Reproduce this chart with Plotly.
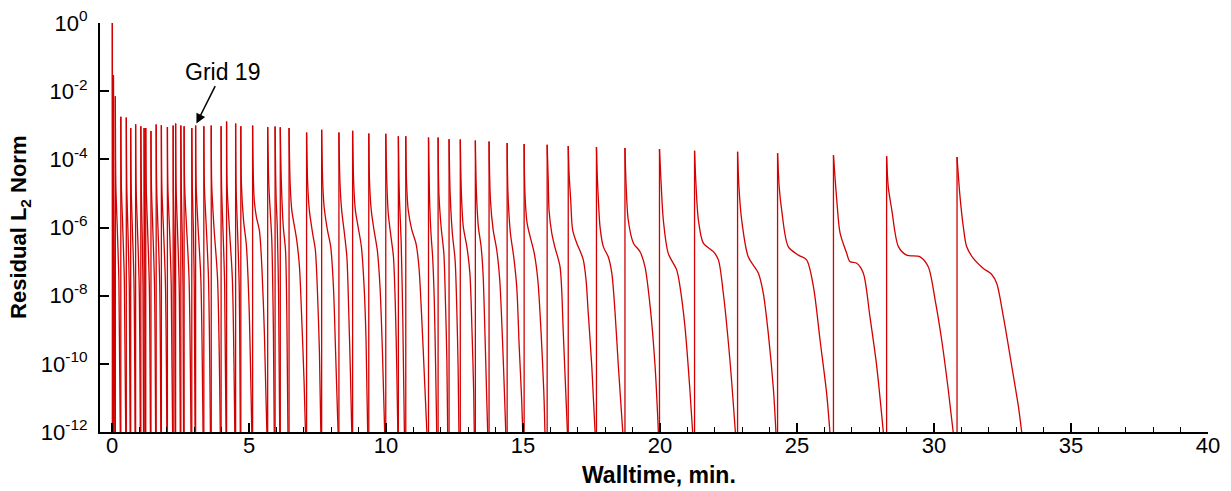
import numpy as np
import plotly.graph_objects as go

# Walltime (min) at which each grid level restarts the solver
restart_min = [
    0.01, 0.05, 0.12, 0.32, 0.52, 0.68, 0.86, 1.05, 1.17, 1.23,
    1.42, 1.61, 1.80, 2.02, 2.23, 2.32, 2.51, 2.63, 2.91, 3.05,
    3.35, 3.62, 3.98, 4.18, 4.51, 4.70, 5.13, 5.68, 5.95, 6.14,
    6.46, 7.10, 7.65, 8.28, 8.78, 9.37, 9.99, 10.45, 10.72, 11.55,
    11.90, 12.30, 12.71, 13.26, 13.76, 14.42, 15.04, 15.88, 16.65, 17.68,
    18.72, 19.98, 21.26, 22.83, 24.29, 26.33, 28.27, 30.84,
]

# log10 of the residual right after each restart
peak_log10 = [
    0.00, -1.53, -2.15, -2.75, -2.77, -3.08, -2.97, -3.03, -3.08, -3.08,
    -3.17, -2.98, -3.00, -3.05, -3.01, -2.95, -3.01, -3.03, -3.08, -3.01,
    -3.03, -3.01, -3.03, -2.89, -2.95, -3.03, -3.01, -3.05, -3.04, -3.06,
    -3.08, -3.21, -3.13, -3.21, -3.16, -3.24, -3.25, -3.32, -3.32, -3.36,
    -3.36, -3.41, -3.42, -3.45, -3.48, -3.52, -3.55, -3.57, -3.61, -3.64,
    -3.67, -3.70, -3.75, -3.78, -3.82, -3.88, -3.91, -3.93,
]

# Convergence history of each grid after its restart: walltime (min)
decay_min = [
    [0.02, 0.035],
    [0.06, 0.08, 0.10],
    [0.14, 0.19, 0.25, 0.30],
    [0.34, 0.39, 0.45, 0.50],
    [0.54, 0.58, 0.63, 0.66],
    [0.70, 0.74, 0.80, 0.84],
    [0.88, 0.93, 0.99, 1.03],
    [1.07, 1.10, 1.13, 1.15],
    [1.18, 1.20, 1.215],
    [1.25, 1.30, 1.36, 1.40],
    [1.44, 1.49, 1.55, 1.59],
    [1.63, 1.68, 1.74, 1.78],
    [1.82, 1.88, 1.95, 2.00],
    [2.04, 2.10, 2.16, 2.21],
    [2.24, 2.27, 2.29, 2.30],
    [2.34, 2.39, 2.45, 2.49],
    [2.53, 2.56, 2.59, 2.61],
    [2.65, 2.72, 2.81, 2.88],
    [2.93, 2.97, 3.00, 3.03],
    [3.07, 3.14, 3.24, 3.32],
    [3.37, 3.44, 3.52, 3.59],
    [3.64, 3.72, 3.85, 3.95],
    [4.00, 4.05, 4.11, 4.16],
    [4.20, 4.28, 4.39, 4.48],
    [4.53, 4.58, 4.64, 4.68],
    [4.72, 4.80, 4.90, 5.00, 5.10],
    [5.15, 5.19, 5.27, 5.38, 5.47, 5.56, 5.65],
    [5.72, 5.77, 5.83, 5.89, 5.92],
    [5.97, 5.99, 6.03, 6.08, 6.12],
    [6.18, 6.25, 6.33, 6.38, 6.42],
    [6.50, 6.56, 6.74, 6.84, 6.92, 7.01, 7.06],
    [7.14, 7.20, 7.32, 7.42, 7.49, 7.57, 7.62],
    [7.69, 7.74, 7.86, 7.98, 8.08, 8.16, 8.25],
    [8.32, 8.38, 8.48, 8.57, 8.64, 8.70, 8.75],
    [8.82, 8.88, 8.98, 9.10, 9.20, 9.27, 9.33],
    [9.40, 9.46, 9.56, 9.68, 9.78, 9.87, 9.95],
    [10.03, 10.08, 10.18, 10.27, 10.34, 10.39, 10.43],
    [10.47, 10.49, 10.55, 10.61, 10.67],
    [10.75, 10.81, 10.94, 11.09, 11.20, 11.30, 11.40, 11.49],
    [11.57, 11.59, 11.64, 11.70, 11.76, 11.81, 11.85],
    [11.93, 12.01, 12.11, 12.16, 12.22, 12.25],
    [12.34, 12.42, 12.52, 12.58, 12.63, 12.66],
    [12.75, 12.82, 12.95, 13.06, 13.14, 13.20, 13.22],
    [13.30, 13.37, 13.47, 13.54, 13.61, 13.67, 13.71],
    [13.81, 13.91, 14.04, 14.15, 14.25, 14.33, 14.37],
    [14.45, 14.54, 14.66, 14.77, 14.86, 14.95, 14.99],
    [15.07, 15.15, 15.26, 15.41, 15.54, 15.66, 15.76, 15.80],
    [15.92, 15.95, 16.05, 16.17, 16.35, 16.47, 16.62],
    [16.68, 16.74, 16.81, 16.96, 17.12, 17.20, 17.30, 17.38, 17.51, 17.63],
    [17.71, 17.75, 17.81, 17.93, 18.11, 18.24, 18.36, 18.48, 18.64],
    [18.76, 18.84, 19.03, 19.27, 19.45, 19.64, 19.82, 19.94],
    [20.04, 20.12, 20.30, 20.61, 20.73, 20.91, 21.09, 21.19],
    [21.31, 21.40, 21.58, 21.95, 22.13, 22.31, 22.55, 22.75],
    [22.88, 22.98, 23.22, 23.59, 23.77, 23.95, 24.14, 24.23],
    [24.35, 24.44, 24.68, 25.05, 25.35, 25.60, 25.84, 26.08, 26.20],
    [26.45, 26.57, 26.81, 26.93, 27.18, 27.42, 27.66, 27.91, 28.15],
    [28.33, 28.46, 28.70, 29.00, 29.49, 29.79, 30.04, 30.28, 30.52, 30.70],
    [30.95, 31.07, 31.19, 31.43, 31.80, 32.10, 32.29, 32.53, 32.84, 33.08, 33.20],
]

# ... and the matching log10 residual
decay_log10 = [
    [-5.5, -12],
    [-5.0, -7.0, -12],
    [-4.8, -6.0, -7.6, -12],
    [-4.8, -6.0, -7.6, -12],
    [-4.9, -6.1, -7.8, -12],
    [-4.9, -6.0, -7.6, -12],
    [-4.9, -6.1, -7.7, -12],
    [-5.0, -6.2, -7.8, -12],
    [-5.2, -7.0, -12],
    [-4.9, -6.1, -7.7, -12],
    [-4.9, -6.1, -7.7, -12],
    [-4.9, -6.1, -7.7, -12],
    [-4.9, -6.1, -7.7, -12],
    [-4.9, -6.1, -7.7, -12],
    [-5.0, -6.3, -8.0, -12],
    [-4.9, -6.1, -7.7, -12],
    [-5.0, -6.2, -7.8, -12],
    [-4.8, -6.0, -7.5, -12],
    [-4.9, -6.1, -7.7, -12],
    [-4.8, -6.0, -7.5, -12],
    [-4.8, -6.0, -7.5, -12],
    [-4.8, -6.0, -7.5, -12],
    [-4.9, -6.1, -7.7, -12],
    [-4.8, -6.0, -7.5, -12],
    [-4.9, -6.1, -7.7, -12],
    [-4.7, -5.8, -6.5, -8.3, -12],
    [-4.3, -5.2, -5.7, -6.1, -7.2, -9.1, -12],
    [-4.71, -5.49, -6.37, -9.10, -12],
    [-4.40, -5.19, -5.98, -8.12, -12],
    [-4.71, -5.98, -6.66, -8.61, -12],
    [-4.71, -5.49, -6.37, -7.15, -8.61, -10.57, -12],
    [-4.71, -5.49, -6.17, -6.66, -7.74, -9.69, -12],
    [-4.71, -5.39, -6.07, -6.56, -7.74, -9.69, -12],
    [-4.71, -5.49, -6.17, -6.86, -8.51, -10.27, -12],
    [-4.71, -5.49, -5.98, -6.56, -7.74, -9.30, -12],
    [-4.71, -5.49, -6.07, -6.66, -7.74, -9.69, -12],
    [-4.71, -5.58, -6.27, -6.86, -8.32, -10.08, -12],
    [-4.50, -5.19, -6.37, -8.61, -12],
    [-4.71, -5.49, -6.07, -6.46, -7.15, -8.61, -10.37, -12],
    [-4.40, -5.19, -6.17, -6.86, -8.12, -10.08, -12],
    [-5.00, -5.98, -6.76, -7.93, -9.88, -12],
    [-5.00, -6.17, -6.95, -8.32, -10.08, -12],
    [-5.00, -5.98, -6.56, -7.34, -9.10, -10.86, -12],
    [-5.00, -5.98, -6.56, -7.34, -9.10, -10.86, -12],
    [-5.19, -6.07, -6.66, -7.54, -9.30, -11.05, -12],
    [-5.00, -6.17, -6.86, -7.74, -9.49, -11.05, -12],
    [-5.00, -5.88, -6.27, -6.76, -7.54, -9.10, -10.86, -12],
    [-4.60, -5.50, -6.17, -6.60, -7.15, -9.10, -12],
    [-4.40, -5.19, -6.07, -6.46, -6.76, -6.95, -7.54, -8.51, -10.08, -12],
    [-4.50, -5.19, -5.98, -6.56, -6.86, -7.34, -8.51, -10.08, -12],
    [-4.71, -5.78, -6.46, -6.71, -7.15, -8.32, -10.08, -12],
    [-4.71, -5.78, -6.76, -7.25, -7.74, -8.91, -10.76, -12],
    [-4.71, -5.78, -6.46, -6.71, -6.95, -7.93, -9.88, -12],
    [-4.81, -5.78, -6.86, -7.34, -7.93, -9.10, -10.76, -12],
    [-4.81, -5.49, -6.56, -6.81, -6.95, -7.74, -9.30, -10.86, -12],
    [-5.19, -6.16, -6.75, -7.00, -7.05, -7.34, -8.61, -10.08, -12],
    [-4.81, -5.49, -6.56, -6.81, -6.86, -7.15, -8.12, -9.30, -10.76, -12],
    [-5.10, -5.98, -6.56, -6.90, -7.20, -7.37, -7.64, -8.61, -10.08, -11.25, -12],
]

y_tick_exp = [0, -2, -4, -6, -8, -10, -12]
x_tick_vals = [0, 5, 10, 15, 20, 25, 30, 35, 40]

LINE_RED = "#d20000"
FONT = "Liberation Sans, Arial, Helvetica, sans-serif"

# vertical jumps at each restart (from the bottom of the axis up to the peak)
rx, ry = [], []
for t0, p in zip(restart_min, peak_log10):
    rx += [t0, t0, None]
    ry += [1e-12, 10.0 ** p, None]

# smooth decay of each grid, separated by gaps
dx, dy = [], []
for t0, p, tm, lg in zip(restart_min, peak_log10, decay_min, decay_log10):
    dx += [t0] + tm + [None]
    dy += [10.0 ** p] + [10.0 ** v for v in lg] + [None]

fig = go.Figure()
fig.add_trace(go.Scatter(x=rx, y=ry, mode="lines",
                         line=dict(color=LINE_RED, width=1.3),
                         hoverinfo="skip", showlegend=False))
fig.add_trace(go.Scatter(x=dx, y=dy, mode="lines",
                         line=dict(color=LINE_RED, width=1.3, shape="spline", smoothing=0.8),
                         connectgaps=False, hoverinfo="skip", showlegend=False))

fig.update_layout(
    width=1231, height=491,
    margin=dict(l=100, r=23, t=23, b=59, autoexpand=False),
    paper_bgcolor="white", plot_bgcolor="white",
    font=dict(family=FONT, color="black", size=22),
    showlegend=False,
)

fig.update_xaxes(
    range=[-0.44, 40], showgrid=False, zeroline=False, automargin=False,
    showline=True, linecolor="black", linewidth=2,
    ticks="inside", ticklen=9, tickwidth=1.5, tickcolor="black",
    tickvals=x_tick_vals, ticktext=[str(v) for v in x_tick_vals],
    tickfont=dict(size=22, family=FONT),
    ticklabelstandoff=-7,
    minor=dict(dtick=1, tick0=0, ticks="inside", ticklen=5, tickwidth=1, tickcolor="black", showgrid=False),
)

fig.update_yaxes(
    type="log", range=[-12, 0], showgrid=False, zeroline=False, automargin=False,
    showline=True, linecolor="black", linewidth=2,
    ticks="inside", ticklen=9, tickwidth=1.5, tickcolor="black",
    tickvals=[10.0 ** e for e in y_tick_exp],
    ticktext=["10<sup>%d</sup>" % e for e in y_tick_exp],
    tickfont=dict(size=22, family=FONT),
    ticklabelstandoff=6,
)

# axis titles
fig.add_annotation(
    x=0.5045, y=-0.105, xref="paper", yref="paper",
    xanchor="center", yanchor="middle", showarrow=False,
    text="<b>Walltime, min.</b>", font=dict(size=23, family=FONT, color="black"),
)
fig.add_annotation(
    x=-0.0722, y=0.499, xref="paper", yref="paper",
    xanchor="center", yanchor="middle", showarrow=False, textangle=-90,
    text="<b>Residual L<sub>2</sub> Norm</b>", font=dict(size=22, family=FONT, color="black"),
)

fig.add_annotation(
    x=3.08, y=-2.95, xref="x", yref="y",
    text="Grid 19", showarrow=True,
    ax=26, ay=-52, axref="pixel", ayref="pixel",
    arrowhead=2, arrowsize=1.3, arrowwidth=1.5, arrowcolor="black",
    font=dict(size=23, family=FONT, color="black"),
)

fig.write_html("out.html")
